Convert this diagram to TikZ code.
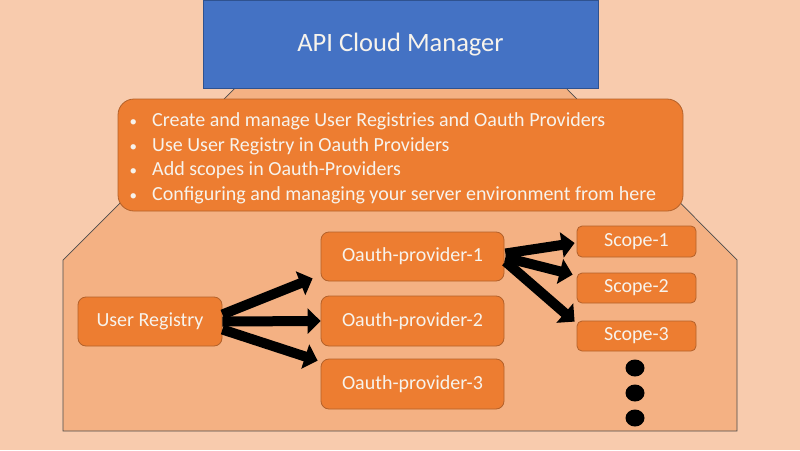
\documentclass[tikz,border=0pt]{standalone}
\usepackage{fontspec}
\setmainfont{Carlito}
\usetikzlibrary{arrows.meta,calc}
\definecolor{bgpeach}{HTML}{F8CBAD}
\definecolor{lightorg}{HTML}{F4B183}
\definecolor{orgfill}{HTML}{ED7D31}
\definecolor{orgline}{HTML}{B4612A}
\definecolor{bluefill}{HTML}{4472C4}
\definecolor{blueline}{HTML}{2F528F}
\definecolor{txt}{HTML}{F7F3EC}
\newcommand{\bul}{\makebox[23.5pt][l]{\hspace{1pt}{\fontsize{15}{15}\selectfont •}}}
\tikzset{
  obox/.style={draw=orgline, line width=0.8pt, fill=orgfill, rounded corners=8pt,
    inner sep=0pt, text=txt, font=\fontsize{20}{24}\selectfont},
  sbox/.style={obox, rounded corners=5pt},
  fat/.style={line width=10pt, black, -{Triangle[width=25pt,length=13pt]}},
}
\begin{document}
\begin{tikzpicture}[x=1pt,y=-1pt]
\useasboundingbox (0,0) rectangle (800,450);
\fill[bgpeach] (0,0) rectangle (800,450);
% lower container shape
\draw[fill=lightorg, draw=black!70, line width=0.7pt]
  (235,88) -- (63,260) -- (63,431) -- (737,431) -- (737,260) -- (566,88) -- cycle;
% top blue box
\node[draw=blueline, line width=0.8pt, fill=bluefill, minimum width=395pt, minimum height=88pt,
  inner sep=0pt, text=txt, font=\fontsize{26.5}{30}\selectfont] (acm) at (400.5,44.5) {API Cloud Manager};
% bullet box
\node[obox, rounded corners=16pt, minimum width=565pt, minimum height=112pt] (info) at (400.5,155) {};
\node[anchor=west, inner sep=0pt, align=left, text=txt, font=\fontsize{20}{24.5}\selectfont] (list) at (128.5,158.5)
  {\bul Create and manage User Registries and Oauth Providers\\
   \bul Use User Registry in Oauth Providers\\
   \bul Add scopes in Oauth-Providers\\
   \bul Configuring and managing your server environment from here};
% nodes
\node[obox, minimum width=144pt, minimum height=49pt] (ur) at (150,321.5) {User Registry};
\node[obox, minimum width=183pt, minimum height=49pt] (op1) at (412.5,256.5) {Oauth-provider-1};
\node[obox, minimum width=183pt, minimum height=50pt] (op2) at (412.5,321) {Oauth-provider-2};
\node[obox, minimum width=183pt, minimum height=50pt] (op3) at (412.5,384) {Oauth-provider-3};
\node[sbox, minimum width=119pt, minimum height=31pt] (sc1) at (636.5,241.5) {Scope-1};
\node[sbox, minimum width=119pt, minimum height=30pt] (sc2) at (636.5,288) {Scope-2};
\node[sbox, minimum width=119pt, minimum height=30pt] (sc3) at (636.5,336) {Scope-3};
% arrows
\draw[fat] ($(ur.east)+(0,-7)$) -- ($(op1.south west)+(-8,-3)$);
\draw[fat] (ur.east) -- (op2.west);
\draw[fat] ($(ur.east)+(0,8)$) -- ($(op3.north west)+(-3,2)$);
\draw[fat] ($(op1.east)+(1,-3)$) -- ($(sc1.west)+(-2,1.5)$);
\draw[fat] ($(op1.east)+(1,1)$) -- ($(sc2.north west)+(-4,2)$);
\draw[fat] ($(op1.east)+(1,5)$) -- ($(sc3.north west)+(-2,1)$);
% dots
\fill[black] (635,368) ellipse [x radius=9.5, y radius=8.5];
\fill[black] (635,393) ellipse [x radius=9.5, y radius=8.5];
\fill[black] (635,418) ellipse [x radius=9.5, y radius=8.5];
\end{tikzpicture}
\end{document}
